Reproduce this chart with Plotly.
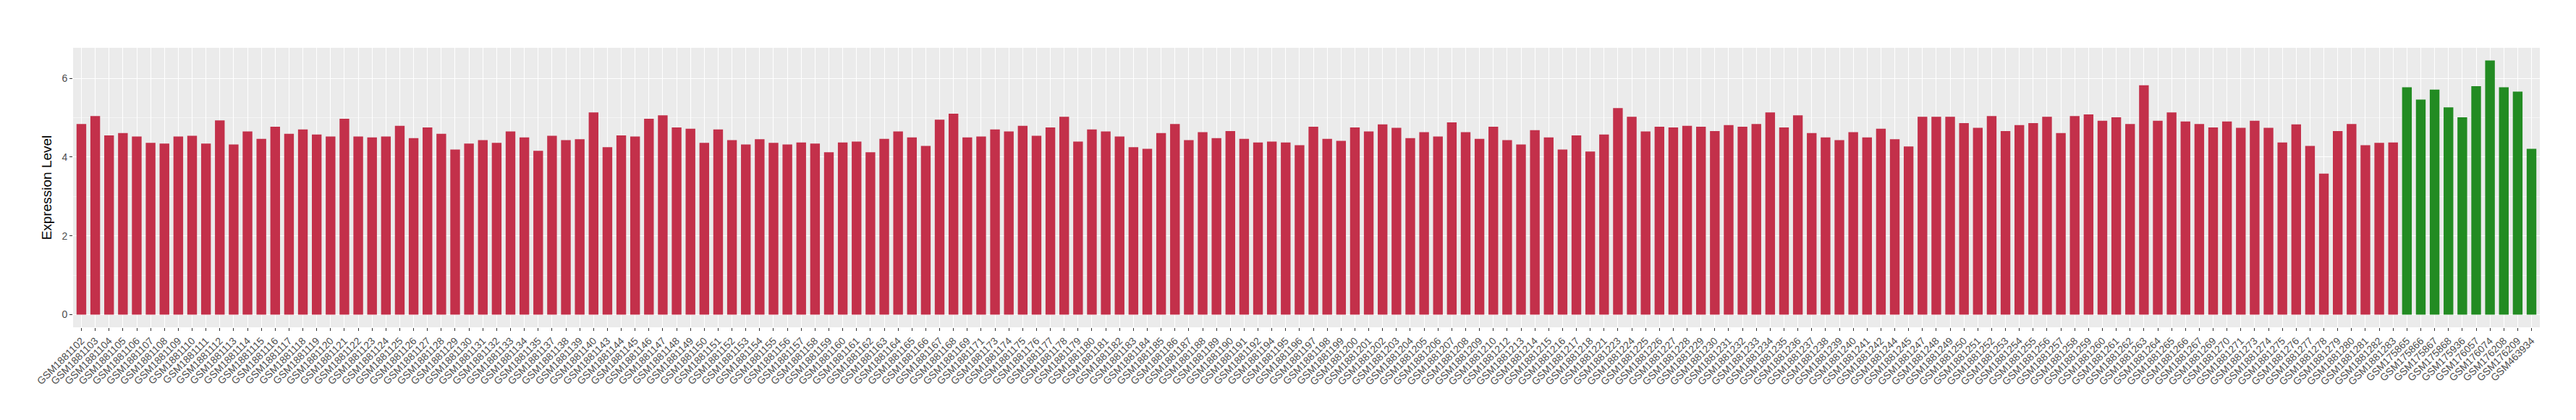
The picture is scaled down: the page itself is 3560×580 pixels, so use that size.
import plotly.graph_objects as go

red_ids = (list(range(1881102, 1881136)) + [1881137, 1881138, 1881139, 1881140]
           + list(range(1881143, 1881170)) + [1881171] + list(range(1881173, 1881193))
           + list(range(1881194, 1881211)) + list(range(1881212, 1881219)) + [1881221]
           + list(range(1881223, 1881243)) + [1881244, 1881245] + list(range(1881247, 1881268))
           + [1881269, 1881270, 1881271] + list(range(1881273, 1881284)))
red_labels = ["GSM%d" % i for i in red_ids]
green_labels = ["GSM175865", "GSM175866", "GSM175867", "GSM175868", "GSM175936",
                "GSM176057", "GSM176074", "GSM176208", "GSM176209", "GSM463934"]

red_values = [
    4.84, 5.04, 4.55, 4.61, 4.52, 4.36, 4.34, 4.52, 4.54, 4.34,
    4.93, 4.32, 4.65, 4.46, 4.77, 4.59, 4.70, 4.57, 4.52, 4.97,
    4.52, 4.50, 4.52, 4.79, 4.48, 4.75, 4.59, 4.19, 4.34, 4.43,
    4.36, 4.65, 4.50, 4.16, 4.54, 4.43, 4.45, 5.13, 4.25, 4.55,
    4.52, 4.97, 5.06, 4.75, 4.72,
    4.36, 4.70, 4.43, 4.32, 4.45, 4.36, 4.32, 4.37, 4.34, 4.12,
    4.37, 4.39, 4.12, 4.46, 4.65, 4.50, 4.28, 4.95, 5.10, 4.50,
    4.52, 4.70, 4.65, 4.79, 4.54, 4.75, 5.02, 4.39, 4.70, 4.65,
    4.52, 4.25, 4.21, 4.61, 4.84, 4.43, 4.63, 4.48, 4.66, 4.46,
    4.37, 4.39, 4.37, 4.30,
    4.77, 4.46, 4.41, 4.75, 4.65, 4.83, 4.74, 4.48, 4.63, 4.52,
    4.88, 4.63, 4.46, 4.77, 4.43, 4.32, 4.68, 4.50, 4.19, 4.55,
    4.14, 4.57, 5.24, 5.02, 4.65, 4.77, 4.75, 4.79, 4.77, 4.66,
    4.81, 4.77, 4.84, 5.13, 4.75, 5.06, 4.61, 4.50, 4.43, 4.63,
    4.50, 4.72, 4.45, 4.27,
    5.02, 5.02, 5.02, 4.86, 4.74, 5.04, 4.66, 4.81, 4.86, 5.02,
    4.61, 5.04, 5.08, 4.92, 5.01, 4.84, 5.82, 4.92, 5.13, 4.90,
    4.84, 4.75, 4.90, 4.74, 4.92, 4.74, 4.37, 4.83, 4.28, 3.58,
    4.66, 4.84, 4.30, 4.36, 4.37,
]
green_values = [5.77, 5.46, 5.71, 5.26, 5.01, 5.80, 6.45, 5.77, 5.66, 4.21]

labels = red_labels + green_labels
values = red_values + green_values
RED = "#C3304A"
GREEN = "#228B22"
colors = [RED] * len(red_values) + [GREEN] * len(green_values)

ymax = max(values)

fig = go.Figure(go.Bar(
    x=labels, y=values, marker=dict(color=colors, line=dict(width=0)), width=0.7,
))

fig.update_layout(
    width=3560, height=580,
    margin=dict(l=93, r=58, t=58, b=136),
    paper_bgcolor="white", plot_bgcolor="#EBEBEB",
    font=dict(family="Liberation Sans, Arial, sans-serif", color="#4D4D4D"),
    showlegend=False, bargap=0.3,
)
fig.update_xaxes(
    type="category", range=[-0.6, len(labels) - 0.4],
    tickangle=-45, tickfont=dict(size=14, color="#4D4D4D"),
    ticks="outside", ticklen=4, tickcolor="#333333", tickwidth=1,
    showgrid=True, gridcolor="white", gridwidth=1, zeroline=False,
    automargin=False,
)
fig.update_yaxes(
    range=[-0.05 * ymax, 1.05 * ymax],
    tickvals=[0, 2, 4, 6], ticktext=["0", "2", "4", "6"],
    tickfont=dict(size=14, color="#4D4D4D"),
    ticks="outside", ticklen=4, tickcolor="#333333", tickwidth=1,
    showgrid=True, gridcolor="white", gridwidth=1, zeroline=False,
    minor=dict(dtick=1, tick0=0, showgrid=True, gridcolor="#F5F5F5", gridwidth=0.6, ticks=""),
    title=dict(text="Expression Level", font=dict(size=19, color="black"), standoff=8),
    automargin=False,
)

fig.write_html("out.html")
